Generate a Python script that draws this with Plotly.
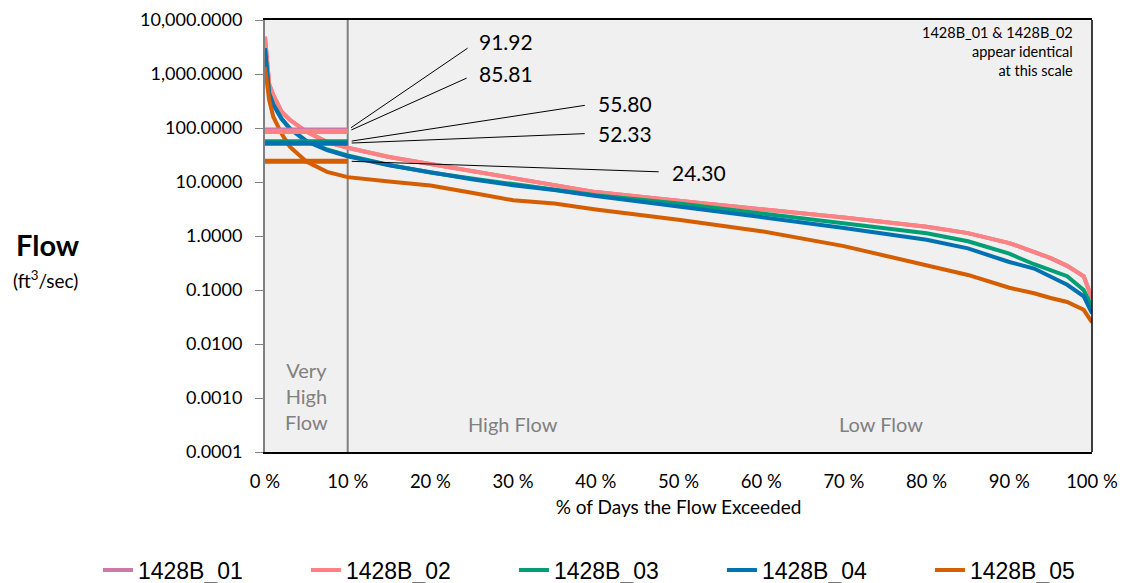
import math
import plotly.graph_objects as go

# ---------------- data ----------------
pct_exceeded = [0, 0.5, 1, 2, 3, 5, 7.5, 10, 15, 20, 25, 30, 35, 40, 50, 60, 70, 80, 85, 90, 93, 95, 97, 99, 100]

flow_01 = [4900, 650, 410, 200, 142, 86, 55, 43, 29, 21.4, 16.3, 12, 8.8, 6.5, 4.5, 3.2, 2.2, 1.48, 1.13, 0.74, 0.51, 0.39, 0.28, 0.18, 0.07]
flow_02 = [4900, 650, 410, 200, 142, 86, 55, 43, 29, 21.4, 16.3, 12, 8.8, 6.5, 4.5, 3.2, 2.2, 1.48, 1.13, 0.74, 0.51, 0.39, 0.28, 0.18, 0.07]
flow_03 = [3000, 440, 275, 150, 99, 58, 40, 31, 20.6, 15, 11.6, 9.1, 7.4, 5.7, 4.0, 2.6, 1.74, 1.12, 0.8, 0.47, 0.30, 0.23, 0.18, 0.1, 0.049]
flow_04 = [3000, 430, 270, 148, 97, 57, 39, 30, 20.4, 14.8, 11.2, 8.7, 7.1, 5.5, 3.55, 2.24, 1.41, 0.85, 0.59, 0.33, 0.25, 0.18, 0.125, 0.076, 0.037]
flow_05 = [1350, 330, 162, 79, 45, 24, 15.4, 12.3, 10.2, 8.6, 6.3, 4.6, 4.0, 3.1, 2.0, 1.23, 0.65, 0.29, 0.19, 0.11, 0.087, 0.071, 0.06, 0.043, 0.025]

series_names = ["1428B_01", "1428B_02", "1428B_03", "1428B_04", "1428B_05"]
series_values = [flow_01, flow_02, flow_03, flow_04, flow_05]
series_colors = ["#CC79A7", "#FF8282", "#009E73", "#0072B2", "#D55E00"]

# Very-high-flow zone statistic (0-10 %)
very_high_values = [91.92, 85.81, 55.80, 52.33, 24.30]
very_high_labels = ["91.92", "85.81", "55.80", "52.33", "24.30"]
zone_limit = 10

x_tick_vals = [0, 10, 20, 30, 40, 50, 60, 70, 80, 90, 100]
x_tick_text = ["0 %", "10 %", "20 %", "30 %", "40 %", "50 %", "60 %", "70 %", "80 %", "90 %", "100 %"]
y_tick_vals = [0.0001, 0.001, 0.01, 0.1, 1, 10, 100, 1000, 10000]
y_tick_text = ["0.0001", "0.0010", "0.0100", "0.1000", "1.0000", "10.0000", "100.0000", "1,000.0000", "10,000.0000"]

# --------------- figure ---------------
FONT = "Lato, 'Open Sans', sans-serif"
fig = go.Figure()

for name, vals, col in zip(series_names, series_values, series_colors):
    fig.add_trace(go.Scatter(x=pct_exceeded, y=vals, mode="lines", name=name,
                             line=dict(color=col, width=4)))

for val, col in zip(very_high_values, series_colors):
    fig.add_trace(go.Scatter(x=[0, zone_limit], y=[val, val], mode="lines",
                             showlegend=False, hoverinfo="skip",
                             line=dict(color=col, width=5)))

# leader-line labels: (ax, ay) pixel offsets of label tails
label_offsets = [(129, -88), (129, -58), (248, -38), (248, -10), (322, 11)]
for val, txt, (ax, ay) in zip(very_high_values, very_high_labels, label_offsets):
    fig.add_annotation(x=zone_limit, y=math.log10(val), xref="x", yref="y", text=txt,
                       showarrow=True, arrowhead=0, arrowwidth=1, arrowcolor="black",
                       ax=ax, ay=ay, xanchor="left", yanchor="middle",
                       startstandoff=11, standoff=4,
                       font=dict(family=FONT, size=21, color="black"))

# zone labels
gray = "#808080"
fig.add_annotation(x=zone_limit / 2, y=0.13, xref="x", yref="paper", text="Very<br>High<br>Flow",
                   showarrow=False, yanchor="middle",
                   font=dict(family=FONT, size=20, color=gray))
fig.add_annotation(x=30, y=0.065, xref="x", yref="paper", text="High Flow",
                   showarrow=False, yanchor="middle", font=dict(family=FONT, size=20, color=gray))
fig.add_annotation(x=74.5, y=0.065, xref="x", yref="paper", text="Low Flow",
                   showarrow=False, yanchor="middle", font=dict(family=FONT, size=20, color=gray))

# note
fig.add_annotation(x=0.979, y=0.995, xref="paper", yref="paper",
                   text="1428B_01 &amp; 1428B_02<br>appear identical<br>at this scale",
                   showarrow=False, xanchor="right", yanchor="top", align="right",
                   font=dict(family=FONT, size=14.5, color="black"))

# y axis title
fig.add_annotation(x=-0.262, y=0.48, xref="paper", yref="paper", text="<b>Flow</b>",
                   showarrow=False, xanchor="center", yanchor="middle",
                   font=dict(family=FONT, size=29, color="black"))
fig.add_annotation(x=-0.265, y=0.40, xref="paper", yref="paper", text="(ft<sup>3</sup>/sec)",
                   showarrow=False, xanchor="center", yanchor="middle",
                   font=dict(family=FONT, size=19, color="black"))

# zone boundary and right border
fig.add_shape(type="line", xref="x", yref="paper", x0=zone_limit, x1=zone_limit, y0=0, y1=1,
              line=dict(color=gray, width=2), layer="below")
fig.add_shape(type="line", xref="paper", yref="paper", x0=1, x1=1, y0=0, y1=1,
              line=dict(color="black", width=1.5))

fig.update_layout(
    width=1125, height=583,
    margin=dict(l=265, r=33, t=20, b=131, autoexpand=False),
    paper_bgcolor="white", plot_bgcolor="#F0F0F0",
    font=dict(family=FONT, color="black"),
    showlegend=True,
    legend=dict(orientation="h", x=-0.202, xanchor="left", y=-0.273, yanchor="middle",
                entrywidth=163, entrywidthmode="pixels", traceorder="normal",
                font=dict(family="'Liberation Sans', Arial, sans-serif", size=23, color="black"),
                itemwidth=30, tracegroupgap=0),
    xaxis=dict(range=[0, 100], tickmode="array", tickvals=x_tick_vals, ticktext=x_tick_text,
               showgrid=False, zeroline=False, showline=True, linecolor="black", linewidth=1.5,
               mirror=True, ticks="", tickfont=dict(family=FONT, size=18.5), ticklabelstandoff=12,
               title=dict(text="% of Days the Flow Exceeded", font=dict(family=FONT, size=19), standoff=10)),
    yaxis=dict(type="log", range=[-4, 4], tickmode="array", tickvals=y_tick_vals, ticktext=y_tick_text,
               showgrid=False, zeroline=False, showline=True, linecolor=gray, linewidth=2,
               ticks="outside", ticklen=8, tickcolor=gray, tickwidth=1, ticklabelstandoff=9,
               tickfont=dict(family=FONT, size=18)),
)

fig.write_html("out.html", config={"displayModeBar": False},
               post_script="document.body.style.margin='0';")
